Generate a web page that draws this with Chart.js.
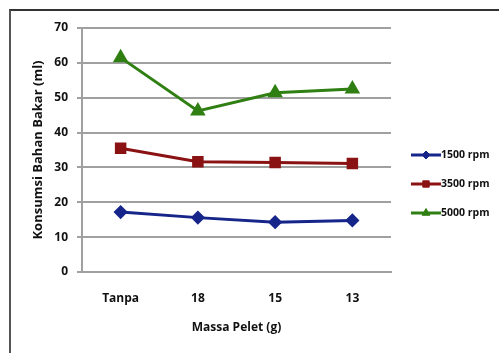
<!DOCTYPE html>
<html>
<head>
<meta charset="utf-8">
<script src="https://cdn.jsdelivr.net/npm/chart.js@4/dist/chart.umd.min.js"></script>
<style>
  html, body { margin: 0; padding: 0; background: #fff; }
  #wrap { position: relative; width: 499px; height: 353px; overflow: hidden; }
  #frame { position: absolute; left: 9px; top: 9px; width: 600px; height: 400px;
           border-top: 2px solid #333; border-left: 2px solid #555; }
  canvas { position: absolute; left: 0; top: 0; }
</style>
</head>
<body>
<div id="wrap">
  <div id="frame"></div>
  <canvas id="myChart" width="499" height="353"></canvas>
</div>
<script>
const categories = ['Tanpa', '18', '15', '13'];
const rpm1500 = [17.2, 15.6, 14.3, 14.8];
const rpm3500 = [35.5, 31.6, 31.4, 31.1];
const rpm5000 = [61.5, 46.2, 51.4, 52.5];
const seriesLabels = ['1500 rpm', '3500 rpm', '5000 rpm'];

const fontFamily = "'Open Sans', sans-serif";

// legend drawn as line + marker like the original
const sideLegend = {
    id: 'sideLegend',
    afterDraw(chart) {
        const ctx = chart.ctx;
        const x0 = 411, rows = [155, 184, 213];
        const sizes = [4, 4.5, 4.5];
        chart.data.datasets.forEach((ds, i) => {
            const y = rows[i];
            ctx.save();
            ctx.strokeStyle = ds.borderColor;
            ctx.lineWidth = 3;
            ctx.beginPath();
            ctx.moveTo(x0, y);
            ctx.lineTo(x0 + 30, y);
            ctx.stroke();
            ctx.fillStyle = ds.borderColor;
            ctx.lineWidth = 1;
            Chart.helpers.drawPoint(ctx, {
                pointStyle: ds.pointStyle,
                radius: sizes[i],
                borderWidth: 1
            }, x0 + 15, y);
            ctx.fillStyle = '#111';
            ctx.font = "bold 10.5px " + fontFamily;
            ctx.textBaseline = 'middle';
            ctx.fillText(ds.label, x0 + 30, y);
            ctx.restore();
        });
    }
};

const ctx = document.getElementById('myChart').getContext('2d');
const chart = new Chart(ctx, {
    type: 'line',
    data: {
        labels: categories,
        datasets: [{
            label: seriesLabels[0],
            data: rpm1500,
            borderColor: '#16258a',
            backgroundColor: '#16258a',
            borderWidth: 3,
            pointStyle: 'rectRot',
            pointRadius: 5,
            pointHoverRadius: 5
        }, {
            label: seriesLabels[1],
            data: rpm3500,
            borderColor: '#8a1212',
            backgroundColor: '#8a1212',
            borderWidth: 3,
            pointStyle: 'rect',
            pointRadius: 6,
            pointHoverRadius: 6
        }, {
            label: seriesLabels[2],
            data: rpm5000,
            borderColor: '#2f7f12',
            backgroundColor: '#2f7f12',
            borderWidth: 3,
            pointStyle: 'triangle',
            pointRadius: 6,
            pointHoverRadius: 6
        }]
    },
    options: {
        responsive: false,
        animation: false,
        events: [],
        layout: { padding: { top: 28, right: 108, left: 26, bottom: 14 } },
        plugins: {
            legend: { display: false },
            tooltip: { enabled: false }
        },
        scales: {
            x: {
                offset: true,
                grid: { display: false, drawTicks: false },
                border: { color: '#a0a0a0', width: 2 },
                ticks: {
                    color: '#111',
                    padding: 19,
                    font: { family: fontFamily, size: 12, weight: 'bold' }
                },
                title: {
                    display: true,
                    text: 'Massa Pelet (g)',
                    color: '#111',
                    padding: { top: 14 },
                    font: { family: fontFamily, size: 12, weight: 'bold' }
                },
                afterFit(scale) { scale.height = 67; }
            },
            y: {
                min: 0,
                max: 70,
                ticks: {
                    stepSize: 10,
                    color: '#111',
                    padding: 9,
                    font: { family: fontFamily, size: 12, weight: 'bold' }
                },
                grid: { color: '#a0a0a0', lineWidth: 2, tickLength: 5 },
                border: { color: '#a0a0a0', width: 2 },
                title: {
                    display: true,
                    text: 'Konsumsi Bahan Bakar (ml)',
                    color: '#111',
                    padding: { bottom: 2 },
                    font: { family: fontFamily, size: 13, weight: 'bold' }
                },
                afterFit(scale) { scale.width = 56; }
            }
        }
    },
    plugins: [sideLegend]
});
</script>
</body>
</html>
